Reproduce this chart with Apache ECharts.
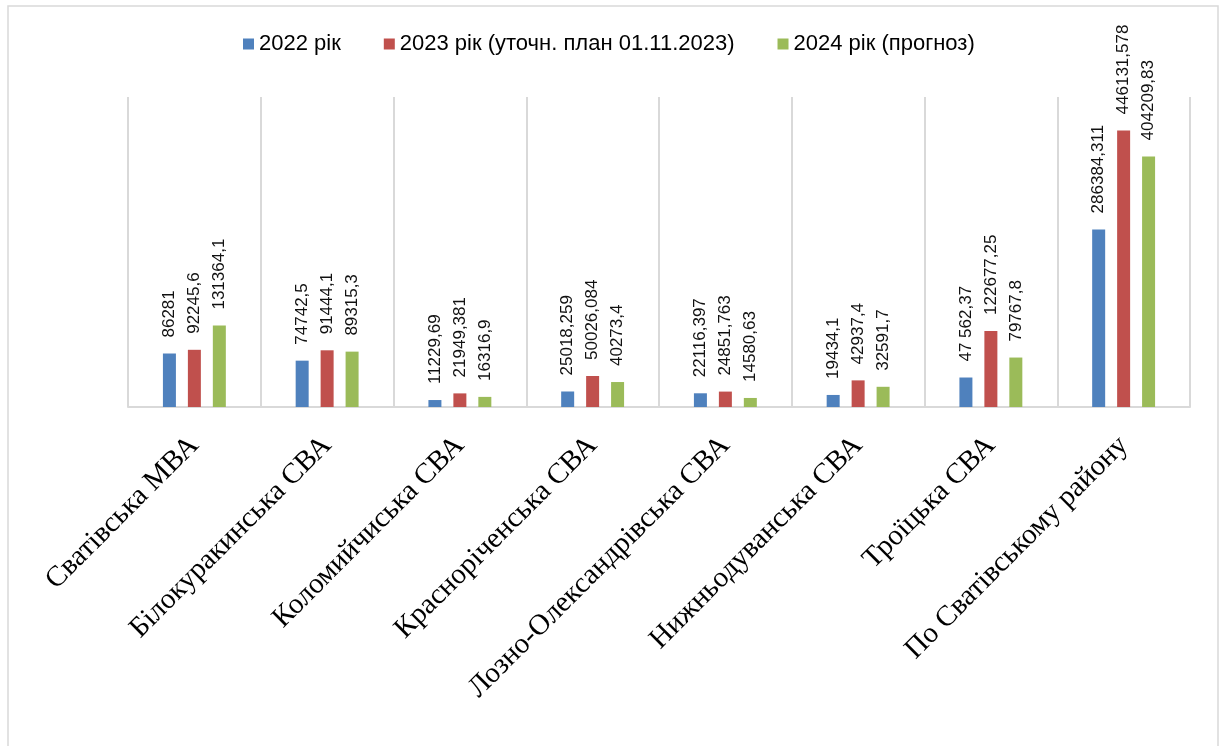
<!DOCTYPE html>
<html>
<head>
<meta charset="utf-8">
<script src="https://cdn.jsdelivr.net/npm/echarts@6/dist/echarts.min.js"></script>
<style>
html,body{margin:0;padding:0;background:#fff;}
#chart{width:1226px;height:746px;}
</style>
</head>
<body>
<div id="chart"></div>
<script>
const categories = ['Сватівська МВА','Білокуракинська СВА','Коломийчиська СВА','Красноріченська СВА','Лозно-Олександрівська СВА','Нижньодуванська СВА','Троїцька СВА','По Сватівському району'];
const seriesNames = ['2022 рік','2023 рік (уточн. план 01.11.2023)','2024 рік (прогноз)'];
const values2022 = [86281, 74742.5, 11229.69, 25018.259, 22116.397, 19434.1, 47562.37, 286384.311];
const values2023 = [92245.6, 91444.1, 21949.381, 50026.084, 24851.763, 42937.4, 122677.25, 446131.578];
const values2024 = [131364.1, 89315.3, 16316.9, 40273.4, 14580.63, 32591.7, 79767.8, 404209.83];
const labels2022 = ['86281','74742,5','11229,69','25018,259','22116,397','19434,1','47 562,37','286384,311'];
const labels2023 = ['92245,6','91444,1','21949,381','50026,084','24851,763','42937,4','122677,25','446131,578'];
const labels2024 = ['131364,1','89315,3','16316,9','40273,4','14580,63','32591,7','79767,8','404209,83'];
const colors = ['#4f81bd','#c0504d','#9bbb59'];

const chart = echarts.init(document.getElementById('chart'), null, {renderer:'canvas'});

function mkSeries(name, vals, labs, color){
  return {
    name: name,
    type: 'bar',
    data: vals,
    barWidth: 13,
    barGap: '92%',
    itemStyle: {color: color},
    label: {
      show: true,
      position: 'top',
      rotate: 90,
      align: 'left',
      verticalAlign: 'middle',
      distance: 16,
      fontFamily: 'Liberation Sans',
      fontSize: 17,
      color: '#111',
      formatter: p => labs[p.dataIndex]
    }
  };
}

chart.setOption({
  animation: false,
  backgroundColor: '#fff',
  graphic: [{
    type: 'rect',
    shape: {x: 8, y: 6, width: 1210, height: 760},
    style: {fill: 'none', stroke: '#d9d9d9', lineWidth: 1.5},
    silent: true
  }],
  legend: {
    data: seriesNames,
    left: 243,
    top: 33,
    padding: 0,
    itemWidth: 11,
    itemHeight: 11,
    itemGap: 43,
    icon: 'rect',
    textStyle: {fontFamily: 'Liberation Sans', fontSize: 22, color: '#000'}
  },
  grid: {left: 128, right: 36, top: 97, bottom: 339, containLabel: false},
  xAxis: {
    type: 'category',
    data: categories,
    boundaryGap: true,
    axisLine: {show: true, lineStyle: {color: '#d9d9d9', width: 2}},
    axisTick: {show: false},
    splitLine: {show: true, lineStyle: {color: '#d9d9d9', width: 2}},
    axisLabel: {
      interval: 0,
      rotate: 45,
      margin: 34,
      fontFamily: 'Liberation Serif',
      fontSize: 29,
      color: '#000'
    }
  },
  yAxis: {
    type: 'value',
    min: 0,
    max: 500000,
    interval: 100000,
    show: false,
    splitLine: {show: false}
  },
  series: [
    mkSeries(seriesNames[0], values2022, labels2022, colors[0]),
    mkSeries(seriesNames[1], values2023, labels2023, colors[1]),
    mkSeries(seriesNames[2], values2024, labels2024, colors[2])
  ]
});
</script>
</body>
</html>
